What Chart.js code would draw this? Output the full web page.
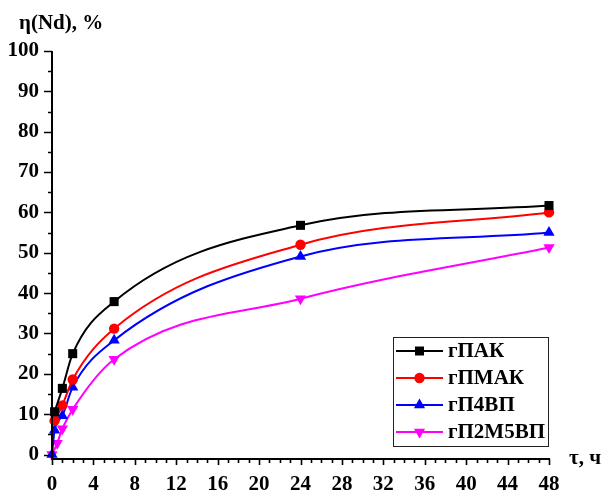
<!DOCTYPE html>
<html>
<head>
<meta charset="utf-8">
<script src="https://cdn.jsdelivr.net/npm/chart.js@4/dist/chart.umd.min.js"></script>
<style>
  html, body { margin: 0; padding: 0; background: #fff; }
  #wrap { width: 607px; height: 490px; position: relative; }
</style>
</head>
<body>
<div id="wrap"><canvas id="kinChart"></canvas></div>
<script>
// ===== data =====
const seriesNames = ["гПАК", "гПМАК", "гП4ВП", "гП2М5ВП"];
const seriesColors = ["#000000", "#ff0000", "#0000ff", "#ff00ff"];
const seriesMarkers = ["rect", "circle", "triangle", "triangleDown"];

const tPAK = [0.25, 1, 2, 6, 24, 48];
const yPAK = [10.6, 16.4, 25.0, 37.9, 56.8, 61.7];
const tPMAK = [0.25, 1, 2, 6, 24, 48];
const yPMAK = [8.4, 12.2, 18.6, 31.2, 52.0, 60.0];
const tP4VP = [0, 0.25, 1, 2, 6, 24, 48];
const yP4VP = [0, 6.0, 9.6, 16.7, 28.3, 49.1, 55.0];
const tP2M5VP = [0, 0.5, 1, 2, 6, 24, 48];
const yP2M5VP = [0, 2.8, 6.4, 11.2, 23.6, 38.6, 51.3];

const xTicks = [0, 4, 8, 12, 16, 20, 24, 28, 32, 36, 40, 44, 48];
const yTicks = [0, 10, 20, 30, 40, 50, 60, 70, 80, 90, 100];

const FONT = "'Liberation Serif', 'Times New Roman', serif";

const toPoints = (xs, ys) => xs.map((x, i) => ({ x: x, y: ys[i] }));
const allT = [tPAK, tPMAK, tP4VP, tP2M5VP];
const allY = [yPAK, yPMAK, yP4VP, yP2M5VP];

function pointOpts(marker) {
  if (marker === "rect") return { pointStyle: "rect", pointRadius: 6.4, pointRotation: 0 };
  if (marker === "circle") return { pointStyle: "circle", pointRadius: 5.2, pointRotation: 0 };
  if (marker === "triangle") return { pointStyle: "triangle", pointRadius: 6.5, pointRotation: 0 };
  return { pointStyle: "triangle", pointRadius: 6.5, pointRotation: 180 };
}

const datasets = seriesNames.map((name, i) => Object.assign({
  label: name,
  data: toPoints(allT[i], allY[i]),
  borderColor: seriesColors[i],
  backgroundColor: seriesColors[i],
  borderWidth: 2,
  pointBorderWidth: 0,
  cubicInterpolationMode: "monotone",
  clip: false
}, pointOpts(seriesMarkers[i])));

// own marker drawer for the legend
function drawMarker(ctx, kind, x, y, color) {
  ctx.save();
  ctx.fillStyle = color;
  ctx.beginPath();
  if (kind === "rect") {
    ctx.rect(x - 4.5, y - 4.5, 9, 9);
  } else if (kind === "circle") {
    ctx.arc(x, y, 5.2, 0, Math.PI * 2);
  } else if (kind === "triangle") {
    ctx.moveTo(x, y - 6.5); ctx.lineTo(x + 5.6, y + 3.3); ctx.lineTo(x - 5.6, y + 3.3);
  } else {
    ctx.moveTo(x, y + 6.5); ctx.lineTo(x + 5.6, y - 3.3); ctx.lineTo(x - 5.6, y - 3.3);
  }
  ctx.closePath();
  ctx.fill();
  ctx.restore();
}

// axes, minor ticks, titles and legend box
const decorPlugin = {
  id: "decor",
  afterDraw(chart) {
    const ctx = chart.ctx;
    const xs = chart.scales.x, ys = chart.scales.y;
    const a = chart.chartArea;
    ctx.save();
    ctx.strokeStyle = "#000";
    ctx.lineWidth = 2;
    ctx.beginPath();
    ctx.moveTo(a.left, a.top);
    ctx.lineTo(a.left, a.bottom);
    ctx.lineTo(a.right + 1, a.bottom);
    ctx.stroke();

    ctx.lineWidth = 1.6;
    ctx.beginPath();
    for (let v = 0; v <= 100; v += 5) {
      const py = Math.round(ys.getPixelForValue(v)) + 0.5;
      const len = v % 10 === 0 ? 8 : 4;
      ctx.moveTo(a.left - len, py);
      ctx.lineTo(a.left, py);
    }
    for (let v = 0; v <= 48; v += 1) {
      const px = Math.round(xs.getPixelForValue(v)) + 0.5;
      const len = v % 4 === 0 ? 6 : 4;
      ctx.moveTo(px, a.bottom);
      ctx.lineTo(px, a.bottom + len);
    }
    ctx.stroke();

    ctx.fillStyle = "#000";
    ctx.font = "bold 21px " + FONT;
    ctx.textAlign = "left";
    ctx.textBaseline = "alphabetic";
    ctx.fillText("η(Nd), %", 19, 29);
    ctx.font = "bold 21px " + FONT;
    ctx.textBaseline = "middle";
    ctx.fillText("τ, ч", 569, 459);

    // legend
    const lx = 393, ly = 337, lw = 155, lh = 109;
    ctx.fillStyle = "#fff";
    ctx.fillRect(lx, ly, lw, lh);
    ctx.strokeStyle = "#222";
    ctx.lineWidth = 1;
    ctx.strokeRect(lx + 0.5, ly + 0.5, lw, lh);
    const rows = [351, 378, 405, 432];
    ctx.font = "bold 21px " + FONT;
    ctx.textBaseline = "middle";
    seriesNames.forEach((name, i) => {
      const y = rows[i];
      ctx.strokeStyle = seriesColors[i];
      ctx.lineWidth = 2;
      ctx.beginPath();
      ctx.moveTo(396, y);
      ctx.lineTo(443, y);
      ctx.stroke();
      drawMarker(ctx, seriesMarkers[i], 419.5, y, seriesColors[i]);
      ctx.fillStyle = "#000";
      ctx.fillText(name, 448, y + 1);
    });
    ctx.restore();
  }
};

new Chart(document.getElementById("kinChart"), {
  type: "line",
  data: { datasets: datasets },
  options: {
    responsive: true,
    maintainAspectRatio: false,
    animation: false,
    devicePixelRatio: 1,
    layout: { padding: { top: 51, right: 58, left: 0, bottom: 0 } },
    plugins: { legend: { display: false }, tooltip: { enabled: false } },
    scales: {
      x: {
        type: "linear",
        min: 0,
        max: 48,
        afterBuildTicks: (scale) => { scale.ticks = xTicks.map(v => ({ value: v })); },
        afterFit: (scale) => { scale.height = 31; },
        grid: { display: false, drawTicks: false },
        border: { display: false },
        ticks: {
          color: "#000",
          padding: 13,
          maxRotation: 0,
          font: { family: FONT, size: 21, weight: "bold" }
        }
      },
      y: {
        min: -1.1,
        max: 100,
        afterBuildTicks: (scale) => { scale.ticks = yTicks.map(v => ({ value: v })); },
        afterFit: (scale) => { scale.width = 52; },
        grid: { display: false, drawTicks: false },
        border: { display: false },
        ticks: {
          color: "#000",
          padding: 13,
          font: { family: FONT, size: 21, weight: "bold" }
        }
      }
    }
  },
  plugins: [decorPlugin]
});
</script>
</body>
</html>
